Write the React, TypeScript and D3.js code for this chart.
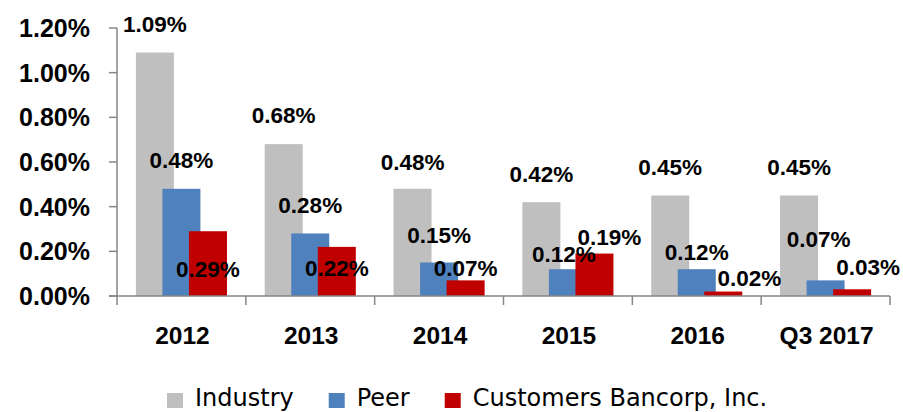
import React, { useEffect, useRef } from "react";
import * as d3 from "d3";

const categories = ["2012", "2013", "2014", "2015", "2016", "Q3 2017"];
const seriesNames = ["Industry", "Peer", "Customers Bancorp, Inc."];
const industry = [1.09, 0.68, 0.48, 0.42, 0.45, 0.45];
const peer = [0.48, 0.28, 0.15, 0.12, 0.12, 0.07];
const customers = [0.29, 0.22, 0.07, 0.19, 0.02, 0.03];
const yTicks = [0, 0.2, 0.4, 0.6, 0.8, 1.0, 1.2];

// label placement tweaks (pixels), as in the original chart
const labelDx = [
  [0, 0, 0, 0, 0, 0],
  [0, 0, 0, -4, 0, -7],
  [0, 0, 0, 15, 26, 16],
];
const labelDy = [
  [-21, -21, -19, -20.5, -20.5, -20.5],
  [-21, -20, -20, -7.5, -9, -33],
  [46, 29, -4.5, -8.5, -5.5, -14],
];

const colors = ["#BFBFBF", "#4F81BD", "#C00000"];

export default function App() {
  const ref = useRef<SVGSVGElement>(null);

  useEffect(() => {
    const svg = d3.select(ref.current);
    svg.selectAll("*").remove();

    const x = d3.scaleBand<string>().domain(categories).range([117, 890]).padding(0);
    const y = d3.scaleLinear().domain([0, 1.2]).range([296, 28]);
    const bw = x.bandwidth();
    const barW = bw * 0.295;
    const step = bw * 0.206;
    const outer = (bw - barW - 2 * step) / 2;
    const data = [industry, peer, customers];

    // bars
    data.forEach((vals, s) => {
      svg
        .append("g")
        .selectAll("rect")
        .data(vals)
        .join("rect")
        .attr("x", (_, i) => (x(categories[i]) as number) + outer + s * step)
        .attr("y", (d) => y(d))
        .attr("width", barW)
        .attr("height", (d) => y(0) - y(d))
        .attr("fill", colors[s]);
    });

    // axes
    const axisColor = "#868686";
    svg
      .append("line")
      .attr("x1", 117)
      .attr("x2", 117)
      .attr("y1", y(1.2))
      .attr("y2", y(0))
      .attr("stroke", axisColor)
      .attr("stroke-width", 1.5);
    svg
      .append("line")
      .attr("x1", 109)
      .attr("x2", 890)
      .attr("y1", y(0))
      .attr("y2", y(0))
      .attr("stroke", axisColor)
      .attr("stroke-width", 1.5);
    svg
      .append("g")
      .selectAll("line")
      .data(yTicks)
      .join("line")
      .attr("x1", 109)
      .attr("x2", 117)
      .attr("y1", (d) => y(d))
      .attr("y2", (d) => y(d))
      .attr("stroke", axisColor)
      .attr("stroke-width", 1.5);
    const bounds = [...categories.map((c) => x(c) as number), 890];
    svg
      .append("g")
      .selectAll("line")
      .data(bounds)
      .join("line")
      .attr("x1", (d) => d)
      .attr("x2", (d) => d)
      .attr("y1", y(0))
      .attr("y2", y(0) + 9)
      .attr("stroke", axisColor)
      .attr("stroke-width", 1.5);

    // y tick labels
    svg
      .append("g")
      .selectAll("text")
      .data(yTicks)
      .join("text")
      .attr("x", 90)
      .attr("y", (d) => y(d) + 9)
      .attr("text-anchor", "end")
      .attr("font-family", "'Liberation Sans', Arial, sans-serif")
      .attr("font-weight", "bold")
      .attr("font-size", 25)
      .attr("fill", "#000")
      .text((d) => d.toFixed(2) + "%");

    // x labels
    svg
      .append("g")
      .selectAll("text")
      .data(categories)
      .join("text")
      .attr("x", (d) => (x(d) as number) + bw / 2 + 1)
      .attr("y", 344)
      .attr("text-anchor", "middle")
      .attr("font-family", "'Liberation Sans', Arial, sans-serif")
      .attr("font-weight", "bold")
      .attr("font-size", 24.5)
      .attr("fill", "#000")
      .text((d) => d);

    // data labels
    data.forEach((vals, s) => {
      svg
        .append("g")
        .selectAll("text")
        .data(vals)
        .join("text")
        .attr("x", (_, i) => (x(categories[i]) as number) + outer + s * step + barW / 2 + labelDx[s][i])
        .attr("y", (d, i) => y(d) + labelDy[s][i])
        .attr("text-anchor", "middle")
        .attr("font-family", "'Liberation Sans', Arial, sans-serif")
        .attr("font-weight", "bold")
        .attr("font-size", 22.5)
        .attr("fill", "#000")
        .text((d) => d.toFixed(2) + "%");
    });

    // legend
    const legend = svg.append("g");
    let lx = 167;
    seriesNames.forEach((name, s) => {
      legend
        .append("rect")
        .attr("x", lx)
        .attr("y", 393)
        .attr("width", 16)
        .attr("height", 15)
        .attr("fill", colors[s]);
      const t = legend
        .append("text")
        .attr("x", lx + 28)
        .attr("y", 406)
        .attr("font-family", "'DejaVu Sans', sans-serif")
        .attr("font-size", 24)
        .attr("fill", "#000")
        .text(name);
      const w = (t.node() as SVGTextElement).getComputedTextLength();
      lx = lx + 28 + w + 35;
    });
  }, []);

  return (
    <svg
      ref={ref}
      width={903}
      height={412}
      style={{ position: "absolute", left: 0, top: 0, background: "#fff" }}
    />
  );
}
